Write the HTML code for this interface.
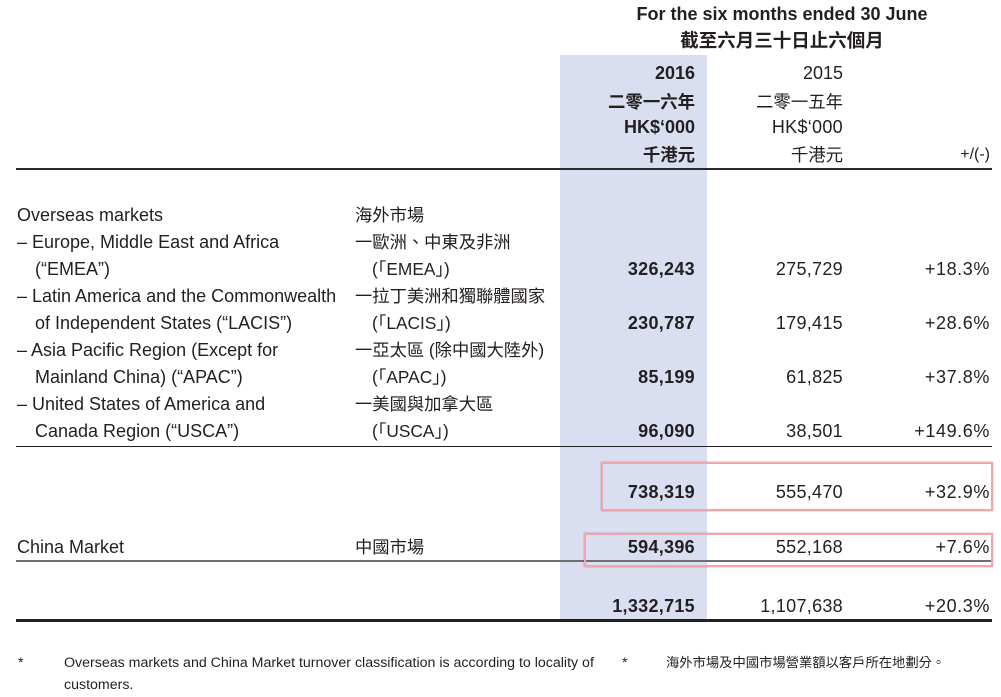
<!DOCTYPE html>
<html>
<head>
<meta charset="utf-8">
<style>
html,body{margin:0;padding:0;}
body{width:1001px;height:697px;background:#fff;position:relative;overflow:hidden;
  font-family:"Liberation Sans","Noto Sans CJK TC",sans-serif;color:#231f20;}
.t{position:absolute;white-space:nowrap;line-height:20px;height:20px;font-size:18px;}
.zh{font-family:"Liberation Sans","Noto Sans CJK TC",sans-serif;font-size:17.3px;}
.b{font-weight:bold;}
.c1{right:306px;text-align:right;}
.c2{right:158px;text-align:right;}
.c3{right:11px;text-align:right;}
.n{letter-spacing:0.3px;}
.p{letter-spacing:0.6px;}
.ln{position:absolute;left:16px;width:976px;}
.box{position:absolute;border:2px solid #f2a6ac;box-shadow:0 0 1.5px rgba(0,0,0,0.35);box-sizing:border-box;}
.fn{position:absolute;white-space:nowrap;line-height:20px;height:20px;font-size:14.2px;}
</style>
</head>
<body>

<!-- blue highlight column -->
<div style="position:absolute;left:560px;top:55px;width:147px;height:564px;background:#d9dff0;"></div>

<!-- header -->
<div class="t b" style="left:582px;width:400px;text-align:center;top:3.5px;">For the six months ended 30 June</div>
<div class="t b" style="left:582px;width:400px;text-align:center;top:31px;font-size:18.5px;">截至六月三十日止六個月</div>

<div class="t b c1" style="top:63px;">2016</div>
<div class="t c2" style="top:63px;">2015</div>
<div class="t b c1 zh" style="top:92px;font-size:17.4px;">二零一六年</div>
<div class="t c2 zh" style="top:92px;font-size:17.4px;">二零一五年</div>
<div class="t b c1" style="top:117px;">HK$‘000</div>
<div class="t c2 n" style="top:117px;">HK$‘000</div>
<div class="t b c1 zh" style="top:145px;font-size:17.4px;">千港元</div>
<div class="t c2 zh" style="top:145px;font-size:17.4px;">千港元</div>
<div class="t c3" style="top:145px;font-size:16px;">+/(-)</div>

<!-- lines -->
<div class="ln" style="top:168px;height:2px;background:#2b2b2b;"></div>
<div class="ln" style="top:446px;height:1px;background:#222;"></div>
<div class="ln" style="top:560px;height:2px;background:#6e6e6e;"></div>
<div class="ln" style="top:619px;height:3px;background:#222;"></div>

<!-- rows -->
<div class="t" style="left:17px;top:204.5px;">Overseas markets</div>
<div class="t zh" style="left:355px;top:204.5px;">海外市場</div>

<div class="t" style="left:17px;top:231.5px;">– Europe, Middle East and Africa</div>
<div class="t zh" style="left:355px;top:231.5px;">一歐洲、中東及非洲</div>

<div class="t" style="left:35px;top:258.5px;">(“EMEA”)</div>
<div class="t zh" style="left:372px;top:258.5px;">(｢EMEA｣)</div>
<div class="t b c1 n" style="top:258.5px;">326,243</div>
<div class="t c2 n" style="top:258.5px;">275,729</div>
<div class="t c3 p" style="top:258.5px;">+18.3%</div>

<div class="t" style="left:17px;top:285.5px;">– Latin America and the Commonwealth</div>
<div class="t zh" style="left:355px;top:285.5px;">一拉丁美洲和獨聯體國家</div>

<div class="t" style="left:35px;top:312.5px;">of Independent States (“LACIS”)</div>
<div class="t zh" style="left:372px;top:312.5px;">(｢LACIS｣)</div>
<div class="t b c1 n" style="top:312.5px;">230,787</div>
<div class="t c2 n" style="top:312.5px;">179,415</div>
<div class="t c3 p" style="top:312.5px;">+28.6%</div>

<div class="t" style="left:17px;top:339.5px;">– Asia Pacific Region (Except for</div>
<div class="t zh" style="left:355px;top:339.5px;">一亞太區 (除中國大陸外)</div>

<div class="t" style="left:35px;top:366.5px;">Mainland China) (“APAC”)</div>
<div class="t zh" style="left:372px;top:366.5px;">(｢APAC｣)</div>
<div class="t b c1 n" style="top:366.5px;">85,199</div>
<div class="t c2 n" style="top:366.5px;">61,825</div>
<div class="t c3 p" style="top:366.5px;">+37.8%</div>

<div class="t" style="left:17px;top:393.5px;">– United States of America and</div>
<div class="t zh" style="left:355px;top:393.5px;">一美國與加拿大區</div>

<div class="t" style="left:35px;top:420.5px;">Canada Region (“USCA”)</div>
<div class="t zh" style="left:372px;top:420.5px;">(｢USCA｣)</div>
<div class="t b c1 n" style="top:420.5px;">96,090</div>
<div class="t c2 n" style="top:420.5px;">38,501</div>
<div class="t c3 p" style="top:420.5px;">+149.6%</div>

<!-- subtotal -->
<div class="t b c1 n" style="top:482px;">738,319</div>
<div class="t c2 n" style="top:482px;">555,470</div>
<div class="t c3 p" style="top:482px;">+32.9%</div>

<!-- China market -->
<div class="t" style="left:17px;top:536.5px;">China Market</div>
<div class="t zh" style="left:355px;top:536.5px;">中國市場</div>
<div class="t b c1 n" style="top:536.5px;">594,396</div>
<div class="t c2 n" style="top:536.5px;">552,168</div>
<div class="t c3 p" style="top:536.5px;">+7.6%</div>

<!-- grand total -->
<div class="t b c1 n" style="top:596px;">1,332,715</div>
<div class="t c2 n" style="top:596px;">1,107,638</div>
<div class="t c3 p" style="top:596px;">+20.3%</div>

<!-- red boxes -->
<div class="box" style="left:601px;top:462px;width:392px;height:49px;"></div>
<div class="box" style="left:584px;top:533px;width:409px;height:34px;"></div>

<!-- footnotes -->
<div class="fn" style="left:18px;top:653px;">*</div>
<div class="fn" style="left:64px;top:653px;">Overseas markets and China Market turnover classification is according to locality of</div>
<div class="fn" style="left:64px;top:675px;">customers.</div>
<div class="fn" style="left:622px;top:653px;">*</div>
<div class="fn" style="left:666px;top:653px;font-size:13.3px;">海外市場及中國市場營業額以客戶所在地劃分。</div>

</body>
</html>
